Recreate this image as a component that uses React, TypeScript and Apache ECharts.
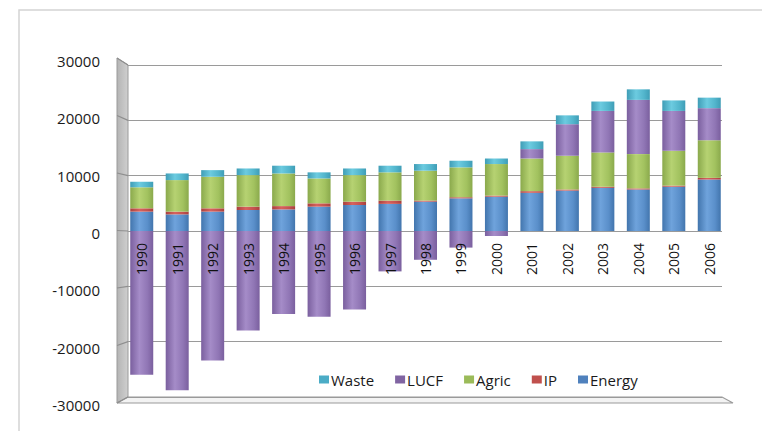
import React, { useEffect, useRef } from "react";
import * as echarts from "echarts";

const years = ["1990","1991","1992","1993","1994","1995","1996","1997","1998","1999","2000","2001","2002","2003","2004","2005","2006"];
const energy = [3500, 3000, 3500, 3800, 3900, 4400, 4700, 4900, 5300, 5900, 6200, 6900, 7300, 7800, 7500, 8000, 9300];
const ip = [600, 500, 600, 600, 600, 600, 600, 600, 200, 200, 200, 300, 200, 200, 200, 200, 300];
const agric = [3800, 5700, 5700, 5700, 5900, 4500, 4800, 5100, 5400, 5400, 5700, 5900, 6100, 6200, 6200, 6300, 6800];
const lucf = [-26000, -28800, -23400, -18000, -15000, -15500, -14200, -7300, -5200, -3000, -900, 1700, 5700, 7500, 9800, 7200, 5800];
const waste = [1000, 1200, 1200, 1200, 1400, 1100, 1200, 1200, 1200, 1200, 1000, 1400, 1600, 1700, 1900, 1900, 1900];
const yTicks = [30000, 20000, 10000, 0, -10000, -20000, -30000];

const FONT = "'Open Sans', 'DejaVu Sans', sans-serif";

function cyl(dark: string, light: string, mid: string) {
  return new echarts.graphic.LinearGradient(0, 0, 1, 0, [
    { offset: 0, color: dark },
    { offset: 0.4, color: light },
    { offset: 0.75, color: mid },
    { offset: 1, color: dark },
  ]);
}

export default function App() {
  const ref = useRef<HTMLDivElement>(null);
  useEffect(() => {
    document.body.style.margin = "0";
    const chart = echarts.init(ref.current!, null, { renderer: "svg" });
    const defs = [
      { name: "Energy", data: energy, grad: cyl("#4275ad", "#6fa3dc", "#5a8fca"), solid: "#4F81BD" },
      { name: "IP", data: ip, grad: cyl("#a9403d", "#d8625e", "#c4524f"), solid: "#C0504D" },
      { name: "Agric", data: agric, grad: cyl("#8aa94c", "#b6d272", "#a2c25f"), solid: "#9BBB59" },
      { name: "LUCF", data: lucf, grad: cyl("#7a5f9e", "#a58cc8", "#9076b5"), solid: "#8064A2" },
      { name: "Waste", data: waste, grad: cyl("#3f9db6", "#6ccbe0", "#52b5cc"), solid: "#4BACC6" },
    ];
    const series = defs.map((s) => ({
      name: s.name,
      type: "bar",
      stack: "total",
      data: s.data,
      xAxisIndex: 0,
      yAxisIndex: 0,
      barWidth: 23,
      itemStyle: { color: s.grad },
    }));

    const gridBase = { outerBoundsMode: "none", containLabel: false };
    const option: any = {
      animation: false,
      grid: [
        { ...gridBase, left: 124, right: 35, top: 65, bottom: 34 },
        { ...gridBase, left: 128, right: 40, top: 65, bottom: 34 },
        { ...gridBase, left: 128, right: 40, top: 61, bottom: 26 },
        { ...gridBase, left: 124, right: 35, top: 65, bottom: 200 },
      ],
      xAxis: [
        { type: "category", gridIndex: 0, data: years, show: false },
        { type: "category", gridIndex: 1, data: years, show: false },
        { type: "category", gridIndex: 2, data: years, show: false },
        {
          type: "category",
          gridIndex: 3,
          data: years,
          z: 10,
          axisLine: { show: false },
          axisTick: { show: false },
          axisLabel: {
            rotate: 90,
            margin: 12,
            fontFamily: FONT,
            fontSize: 14,
            color: "#111",
          },
        },
      ],
      yAxis: [
        { type: "value", gridIndex: 0, min: -30000, max: 30000, interval: 10000, show: false },
        {
          type: "value",
          gridIndex: 1,
          min: -30000,
          max: 30000,
          interval: 10000,
          axisLine: { show: false },
          axisTick: { show: false },
          axisLabel: { show: false },
          splitLine: { show: true, lineStyle: { color: "#9a9a9a", width: 1.2 } },
        },
        {
          type: "value",
          gridIndex: 2,
          min: -30000,
          max: 30000,
          interval: 10000,
          axisLine: { show: false },
          axisTick: { show: false },
          splitLine: { show: false },
          axisLabel: {
            margin: 28,
            fontFamily: FONT,
            fontSize: 15,
            color: "#1a1a1a",
            formatter: (v: number) => String(v),
          },
        },
        { type: "value", gridIndex: 3, min: 0, max: 30000, show: false },
      ],
      legend: {
        left: 314,
        top: 367,
        itemWidth: 10,
        itemHeight: 8,
        itemGap: 21,
        icon: "rect",
        textStyle: { fontFamily: FONT, fontSize: 15, color: "#1a1a1a", padding: [0, 0, 0, -3] },
        data: ["Waste", "LUCF", "Agric", "IP", "Energy"].map((n) => {
          const s = defs.find((x) => x.name === n)!;
          return { name: n, itemStyle: { color: s.solid } };
        }),
      },
      series,
    };
    chart.setOption(option);

    const yPix = (v: number) => chart.convertToPixel({ yAxisIndex: 1 } as any, v) as number;
    const yTop = yPix(30000);
    const yBot = yPix(-30000);
    const x0 = 128;
    const xR = 762 - 40;
    const dx = 11;
    const topOff = -7;
    const botOff = 6;
    const leftY = (y: number) => y + topOff + ((y - yTop) / (yBot - yTop)) * (botOff - topOff);

    const graphics: any[] = [
      {
        type: "rect",
        shape: { x: 19, y: 10, width: 780, height: 440 },
        style: { fill: "none", stroke: "#d4d4d4", lineWidth: 1.5 },
        z: -10,
        silent: true,
      },
      {
        type: "polygon",
        shape: { points: [[x0 - dx, leftY(yTop)], [x0, yTop], [x0, yBot], [x0 - dx, leftY(yBot)]] },
        style: {
          fill: new echarts.graphic.LinearGradient(0, 0, 1, 0, [
            { offset: 0, color: "#b4b4b4" },
            { offset: 1, color: "#cfcfcf" },
          ]),
          stroke: "#9a9a9a",
          lineWidth: 1,
        },
        z: -5,
        silent: true,
      },
      {
        type: "polygon",
        shape: { points: [[x0, yBot], [xR, yBot], [xR + dx, leftY(yBot)], [x0 - dx, leftY(yBot)]] },
        style: { fill: "#f3f3f3", stroke: "#9a9a9a", lineWidth: 1.2 },
        z: -5,
        silent: true,
      },
    ];
    yTicks.forEach((v) => {
      const y = yPix(v);
      graphics.push({
        type: "line",
        shape: { x1: x0 - dx, y1: leftY(y), x2: x0, y2: y },
        style: { stroke: "#8e8e8e", lineWidth: 1.2 },
        z: -4,
        silent: true,
      });
    });
    chart.setOption({ graphic: graphics });

    return () => chart.dispose();
  }, []);
  return <div ref={ref} style={{ width: 762, height: 431 }} />;
}
